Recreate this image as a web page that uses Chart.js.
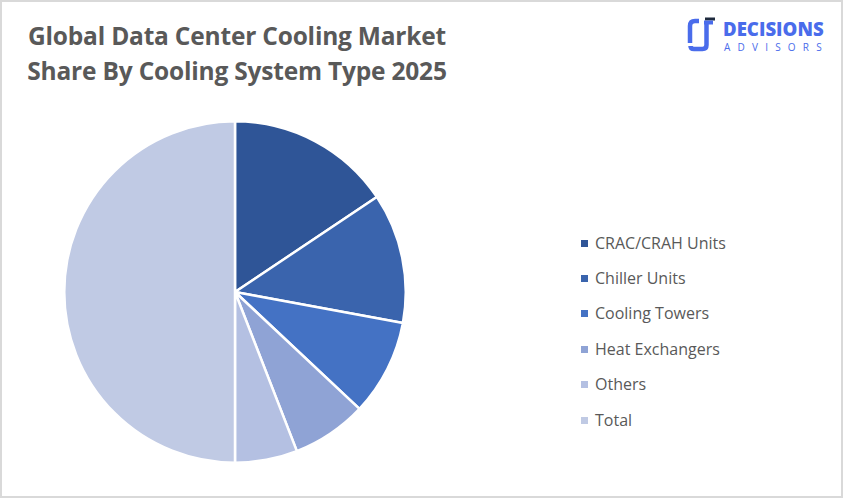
<!DOCTYPE html>
<html>
<head>
<meta charset="utf-8">
<script src="https://cdn.jsdelivr.net/npm/chart.js@4.4.1/dist/chart.umd.min.js"></script>
<style>
  html, body { margin: 0; padding: 0; background: #fff; }
  #frame { position: relative; width: 843px; height: 498px; box-sizing: border-box; border: 2px solid #D9D9D9; overflow: hidden; background: #fff; }
  #title { position: absolute; left: 0; width: 470px; top: 16px; text-align: center; font-family: "Open Sans", sans-serif; font-weight: 700; font-size: 24.5px; line-height: 35px; color: #595959; letter-spacing: -0.2px; }
  #pieWrap { position: absolute; left: 61px; top: 118px; width: 344px; height: 344px; }
  #legend { position: absolute; left: 579px; top: 223px; font-family: "Open Sans", sans-serif; font-size: 16px; color: #595959; }
  .li { height: 35.4px; display: flex; align-items: center; }
  .sw { width: 7px; height: 7px; margin-right: 7px; margin-top: 1px; }
  #logo { position: absolute; left: 684px; top: 14px; width: 150px; height: 40px; }
  #logo .big { position: absolute; left: 37px; top: 1px; font-family: "Open Sans", sans-serif; font-weight: 800; font-size: 18.6px; color: #4A6CEB; letter-spacing: 0px; line-height: 24px; }
  #logo .small { position: absolute; left: 38px; top: 24px; font-family: "Open Sans", sans-serif; font-weight: 400; font-size: 10px; color: #4A6CEB; letter-spacing: 7.2px; line-height: 14px; }
</style>
</head>
<body>
<div id="frame">
  <div id="title">Global Data Center Cooling Market<br>Share By Cooling System Type 2025</div>
  <div id="logo">
    <svg width="32" height="38" viewBox="0 0 32 38" style="position:absolute;left:0;top:0">
      <path d="M13 5 H9 Q4 5 4 10 V27" stroke="#4A6CEB" stroke-width="4.5" fill="none"/>
      <path d="M20.5 6 V29 Q20.5 33 16.5 33 H8 Q4.5 33 4.5 30" stroke="#4A6CEB" stroke-width="4.5" fill="none"/>
      <rect x="19" y="1.5" width="10" height="3" fill="#1F2B3E"/>
      <rect x="18" y="4.5" width="9" height="4" fill="#4A6CEB"/>
    </svg>
    <div class="big">DECISIONS</div>
    <div class="small">ADVISORS</div>
  </div>
  <div id="pieWrap"><canvas id="c" width="344" height="344"></canvas></div>
  <div id="legend"></div>
</div>
<script>
const categories = ["CRAC/CRAH Units", "Chiller Units", "Cooling Towers", "Heat Exchangers", "Others", "Total"];
const shareValues = [15.6, 12.3, 9.1, 7.1, 5.9, 50.0];
const sliceColors = ["#2F5597", "#3A64AD", "#4472C4", "#8FA3D5", "#B4C0E2", "#C0CAE4"];

const chart = new Chart(document.getElementById("c"), {
  type: "pie",
  data: {
    labels: categories,
    datasets: [{
      data: shareValues,
      backgroundColor: sliceColors,
      borderColor: "#FFFFFF",
      borderWidth: 2.5
    }]
  },
  options: {
    responsive: false,
    animation: false,
    layout: { padding: 0 },
    plugins: { legend: { display: false }, tooltip: { enabled: false }, title: { display: false } }
  }
});

const legend = document.getElementById("legend");
categories.forEach((name, i) => {
  const row = document.createElement("div");
  row.className = "li";
  const sw = document.createElement("span");
  sw.className = "sw";
  sw.style.background = sliceColors[i];
  const t = document.createElement("span");
  t.textContent = name;
  row.appendChild(sw);
  row.appendChild(t);
  legend.appendChild(row);
});
</script>
</body>
</html>
